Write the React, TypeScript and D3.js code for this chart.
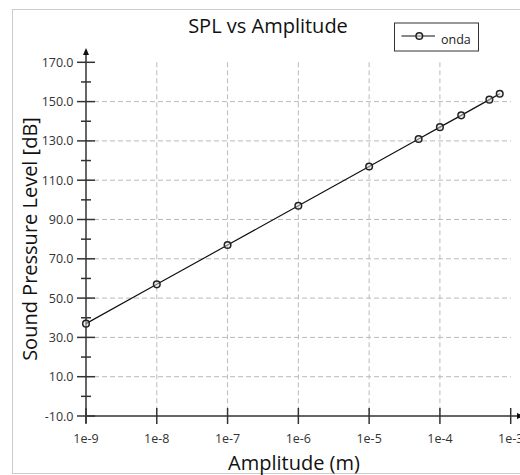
import React from "react";
import * as d3 from "d3";

const amplitudes = [1e-9, 1e-8, 1e-7, 1e-6, 1e-5, 5e-5, 1e-4, 2e-4, 5e-4, 7e-4];
const splValues = [37, 57, 77, 97, 117, 131, 137, 143, 151, 154];
const yTicks = [-10, 10, 30, 50, 70, 90, 110, 130, 150, 170];
const yMinorTicks = [0, 20, 40, 60, 80, 100, 120, 140, 160];
const yGrid = [10, 30, 50, 70, 90, 110, 130, 150];
const xTicks = [1e-9, 1e-8, 1e-7, 1e-6, 1e-5, 1e-4, 1e-3];
const xTickLabels = ["1e-9", "1e-8", "1e-7", "1e-6", "1e-5", "1e-4", "1e-3"];
const xGrid = [1e-8, 1e-7, 1e-6, 1e-5, 1e-4];
const seriesName = "onda";

const W = 520;
const H = 475;
const FONT = "'Open Sans', 'Noto Sans', sans-serif";

export default function App() {
  const x = d3.scaleLog().domain([1e-9, 1e-3]).range([86, 510.7]);
  const y = d3.scaleLinear().domain([-10, 170]).range([416, 62.3]);
  const data = amplitudes.map((a, i) => ({ a, v: splValues[i] }));
  const line = d3
    .line<{ a: number; v: number }>()
    .x((d) => x(d.a))
    .y((d) => y(d.v));
  const axisColor = "#333";
  const gridColor = "#bbb";
  const x0 = x(1e-9);
  const y0 = y(-10);

  return (
    <svg
      width={W}
      height={H}
      style={{ position: "absolute", left: 0, top: 0, background: "#fff" }}
      fontFamily={FONT}
    >
      <rect x={12.5} y={9.5} width={520} height={464} fill="#fff" stroke="#ccc" strokeWidth={1} />
      <text x={268} y={33} textAnchor="middle" fontSize={20} fill="#111">
        SPL vs Amplitude
      </text>
      {/* grid */}
      {yGrid.map((t) => (
        <line
          key={"gy" + t}
          x1={x0}
          x2={511}
          y1={y(t)}
          y2={y(t)}
          stroke={gridColor}
          strokeWidth={1}
          strokeDasharray="5,3"
        />
      ))}
      {xGrid.map((t) => (
        <line
          key={"gx" + t}
          x1={x(t)}
          x2={x(t)}
          y1={y(170)}
          y2={y0}
          stroke={gridColor}
          strokeWidth={1}
          strokeDasharray="5,3"
        />
      ))}
      {/* y axis */}
      <line x1={x0} x2={x0} y1={y0 + 7} y2={53} stroke={axisColor} strokeWidth={1.5} />
      <path d={`M${x0 - 3},${55} L${x0},${48} L${x0 + 3},${55} Z`} fill="#111" />
      {yTicks.map((t) => (
        <g key={"yt" + t}>
          <line x1={x0 - 9} x2={x0 + 9} y1={y(t)} y2={y(t)} stroke={axisColor} strokeWidth={1.5} />
          <text x={73.5} y={y(t) + 4.5} textAnchor="end" fontSize={12.5} fill="#333">
            {t.toFixed(1)}
          </text>
        </g>
      ))}
      {yMinorTicks.map((t) => (
        <line key={"ym" + t} x1={x0 - 5} x2={x0 + 5} y1={y(t)} y2={y(t)} stroke={axisColor} strokeWidth={1.5} />
      ))}
      {/* x axis */}
      <line x1={x0} x2={522} y1={y0} y2={y0} stroke={axisColor} strokeWidth={1.5} />
      <path d={`M${517},${y0 - 3} L${524},${y0} L${517},${y0 + 3} Z`} fill="#111" />
      {xTicks.map((t, i) => (
        <g key={"xt" + t}>
          <line x1={x(t)} x2={x(t)} y1={y0 - 8} y2={y0 + 8} stroke={axisColor} strokeWidth={1.5} />
          <text x={x(t)} y={443} textAnchor="middle" fontSize={12.5} fill="#333">
            {xTickLabels[i]}
          </text>
        </g>
      ))}
      {/* axis labels */}
      <text x={294} y={470} textAnchor="middle" fontSize={20} fill="#111">
        Amplitude (m)
      </text>
      <text
        transform={`translate(36.5,239) rotate(-90)`}
        textAnchor="middle"
        fontSize={20}
        fill="#111"
      >
        Sound Pressure Level [dB]
      </text>
      {/* series */}
      <path d={line(data) || ""} fill="none" stroke="#111" strokeWidth={1.2} />
      {data.map((d, i) => (
        <circle key={"p" + i} cx={x(d.a)} cy={y(d.v)} r={3.3} fill="#ddd" fillOpacity={0.5} stroke="#222" strokeWidth={1.5} />
      ))}
      {/* legend */}
      <rect x={394.5} y={23} width={84} height={28} fill="#fff" stroke="#333" strokeWidth={1} />
      <line x1={401.5} x2={435} y1={36} y2={36} stroke="#111" strokeWidth={1.2} />
      <circle cx={419.3} cy={36} r={3.3} fill="#ddd" fillOpacity={0.5} stroke="#222" strokeWidth={1.5} />
      <text x={441} y={43.5} fontSize={12.5} fill="#222">
        {seriesName}
      </text>
    </svg>
  );
}
